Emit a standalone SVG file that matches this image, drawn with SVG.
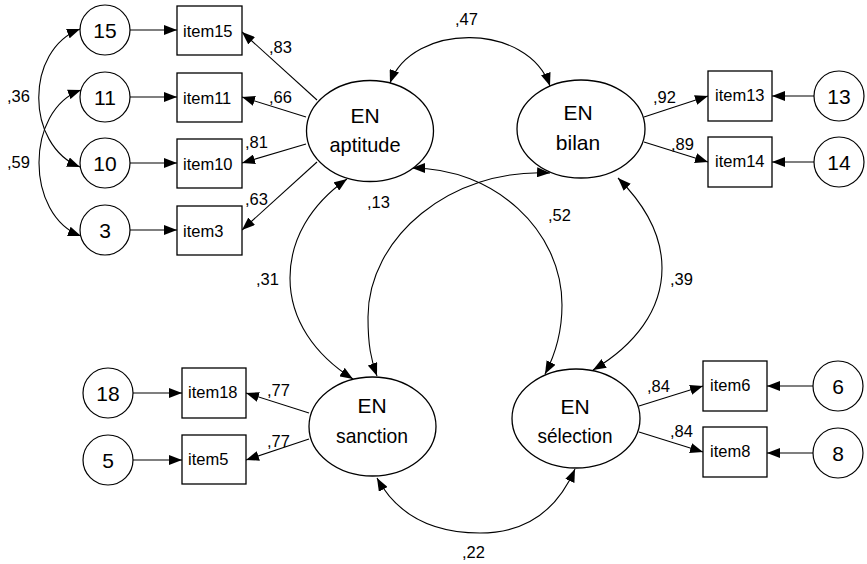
<svg xmlns="http://www.w3.org/2000/svg" width="867" height="564" viewBox="0 0 867 564">
<style>
text{font-family:"Liberation Sans",Arial,sans-serif;fill:#000}
.lat{fill:#fff;stroke:#000;stroke-width:1.3}
.box{fill:#fff;stroke:#000;stroke-width:1.3}
.err{fill:#fff;stroke:#000;stroke-width:1.2}
.c{fill:none;stroke:#000;stroke-width:1.1}
.a1{marker-end:url(#ah)}
.a2{marker-start:url(#ah);marker-end:url(#ah)}
.lt{font-size:21px;text-anchor:middle}
.it{font-size:16.5px}
.en{font-size:21px;text-anchor:middle}
.lb{font-size:16.5px}
</style>
<defs>
<marker id="ah" markerUnits="userSpaceOnUse" markerWidth="13" markerHeight="10" refX="13" refY="5" orient="auto-start-reverse" viewBox="0 0 13 10">
<path d="M0,0 L13,5 L0,10 z" fill="#000"/>
</marker>
</defs>
<g id="connectors">
<path class="c a1" d="M130 30 L177 30"/>
<path class="c a1" d="M130 97 L177 97"/>
<path class="c a1" d="M130 163 L177 163"/>
<path class="c a1" d="M130 230 L177 230"/>
<path class="c a1" d="M317 100 L242 32"/>
<path class="c a1" d="M306 117 L242 97"/>
<path class="c a1" d="M306 144 L242 163"/>
<path class="c a1" d="M317 162 L242 230"/>
<path class="c a1" d="M644 117 L708 96"/>
<path class="c a1" d="M644 142 L708 162"/>
<path class="c a1" d="M814 96 L772 96"/>
<path class="c a1" d="M814 162 L772 162"/>
<path class="c a1" d="M133 393 L182 393"/>
<path class="c a1" d="M133 460 L182 460"/>
<path class="c a1" d="M309 413 L246 393"/>
<path class="c a1" d="M309 439 L246 460"/>
<path class="c a1" d="M639 406 L703 386"/>
<path class="c a1" d="M639 432 L703 452"/>
<path class="c a1" d="M813 386 L767 386"/>
<path class="c a1" d="M813 453 L767 453"/>
<path class="c a2" d="M80 29 C25 50, 25 145, 80 167"/>
<path class="c a2" d="M81 90 C25 110, 25 215, 81 236"/>
<path class="c a2" d="M390 83 C412 22, 528 22, 550 86"/>
<path class="c a2" d="M347 179 C310 205, 290 240, 290 278 C290 320, 315 355, 353 379"/>
<path class="c a2" d="M412 168 C494 168, 562 230, 562 305 C562 335, 554 357, 545 374"/>
<path class="c a2" d="M550 173 C450 168, 368 238, 368 317 C368 345, 371 360, 377 376"/>
<path class="c a2" d="M618 178 C645 205, 662 235, 662 268 C662 310, 635 345, 593 370"/>
<path class="c a2" d="M377 478 C400 520, 440 533, 480 533 C520 533, 555 515, 575 469"/>
</g>
<g id="labels">
<text class="lb" x="455" y="25">,47</text>
<text class="lb" x="269" y="53">,83</text>
<text class="lb" x="269" y="103">,66</text>
<text class="lb" x="245" y="148">,81</text>
<text class="lb" x="245" y="205">,63</text>
<text class="lb" x="7" y="102">,36</text>
<text class="lb" x="7" y="168">,59</text>
<text class="lb" x="367" y="208">,13</text>
<text class="lb" x="548" y="221">,52</text>
<text class="lb" x="256" y="285">,31</text>
<text class="lb" x="670" y="285">,39</text>
<text class="lb" x="653" y="103">,92</text>
<text class="lb" x="671" y="150">,89</text>
<text class="lb" x="267" y="396">,77</text>
<text class="lb" x="267" y="447">,77</text>
<text class="lb" x="647" y="392">,84</text>
<text class="lb" x="670" y="437">,84</text>
<text class="lb" x="462" y="558">,22</text>
</g>
<g id="aptitude"><ellipse class="lat" cx="370" cy="131" rx="63.5" ry="50.5"/><text class="lt" x="365" y="123">EN</text><text class="lt" x="365" y="152" textLength="71" lengthAdjust="spacingAndGlyphs">aptitude</text></g>
<g id="bilan"><ellipse class="lat" cx="581" cy="129" rx="64" ry="49"/><text class="lt" x="578" y="120">EN</text><text class="lt" x="578" y="150">bilan</text></g>
<g id="sanction"><ellipse class="lat" cx="372.5" cy="426.5" rx="63.5" ry="49.5"/><text class="lt" x="372" y="413">EN</text><text class="lt" x="372" y="443" textLength="72" lengthAdjust="spacingAndGlyphs">sanction</text></g>
<g id="selection"><ellipse class="lat" cx="576" cy="418.5" rx="64" ry="49.5"/><text class="lt" x="575" y="414">EN</text><text class="lt" x="575" y="443" textLength="75" lengthAdjust="spacingAndGlyphs">sélection</text></g>
<g id="item15"><rect class="box" x="177" y="6" width="65" height="49"/><text class="it" x="183" y="37">item15</text></g>
<g id="item11"><rect class="box" x="177" y="73" width="65" height="49"/><text class="it" x="183" y="104">item11</text></g>
<g id="item10"><rect class="box" x="177" y="139" width="65" height="49"/><text class="it" x="183" y="170">item10</text></g>
<g id="item3"><rect class="box" x="177" y="206" width="65" height="49"/><text class="it" x="183" y="237">item3</text></g>
<g id="item13"><rect class="box" x="708" y="71" width="64" height="50"/><text class="it" x="715" y="101">item13</text></g>
<g id="item14"><rect class="box" x="708" y="137" width="64" height="50"/><text class="it" x="715" y="167">item14</text></g>
<g id="item18"><rect class="box" x="182" y="368" width="64" height="50"/><text class="it" x="188" y="398">item18</text></g>
<g id="item5"><rect class="box" x="182" y="435" width="64" height="49"/><text class="it" x="188" y="465">item5</text></g>
<g id="item6"><rect class="box" x="703" y="361" width="64" height="50"/><text class="it" x="710" y="391">item6</text></g>
<g id="item8"><rect class="box" x="703" y="427" width="64" height="50"/><text class="it" x="710" y="457">item8</text></g>
<g id="e15"><circle class="err" cx="105" cy="30" r="25"/><text class="en" x="105" y="37.5">15</text></g>
<g id="e11"><circle class="err" cx="105" cy="97" r="25"/><text class="en" x="105" y="104.5">11</text></g>
<g id="e10"><circle class="err" cx="105" cy="163" r="25"/><text class="en" x="105" y="170.5">10</text></g>
<g id="e3"><circle class="err" cx="105" cy="230" r="25"/><text class="en" x="105" y="237.5">3</text></g>
<g id="e13"><circle class="err" cx="839" cy="96" r="25"/><text class="en" x="839" y="103.5">13</text></g>
<g id="e14"><circle class="err" cx="839" cy="162" r="25"/><text class="en" x="839" y="169.5">14</text></g>
<g id="e18"><circle class="err" cx="108" cy="393" r="25"/><text class="en" x="108" y="400.5">18</text></g>
<g id="e5"><circle class="err" cx="108" cy="460" r="25"/><text class="en" x="108" y="467.5">5</text></g>
<g id="e6"><circle class="err" cx="838" cy="386" r="25"/><text class="en" x="838" y="393.5">6</text></g>
<g id="e8"><circle class="err" cx="838" cy="453" r="25"/><text class="en" x="838" y="460.5">8</text></g>
</svg>
